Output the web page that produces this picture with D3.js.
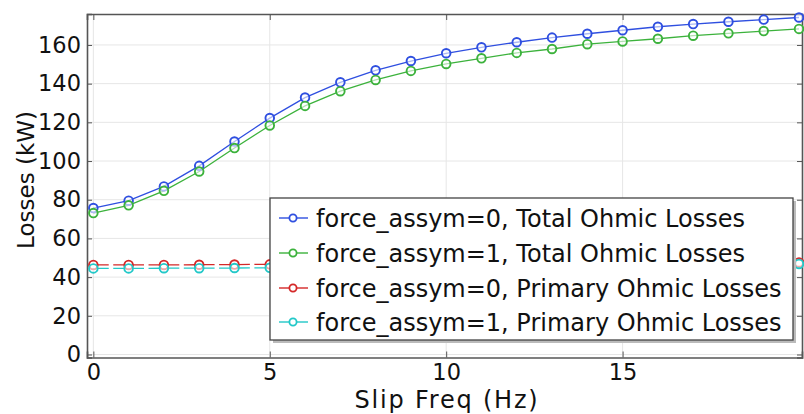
<!DOCTYPE html>
<html>
<head>
<meta charset="utf-8">
<script src="https://cdn.jsdelivr.net/npm/d3@7/dist/d3.min.js"></script>
<style>
  html, body { margin: 0; padding: 0; background: #fff; }
  svg { display: block; }
  text { font-family: "DejaVu Sans", sans-serif; fill: #111; }
</style>
</head>
<body>
<svg id="chart" width="804" height="414"></svg>
<script>
// ---- data ----
const slipFreq = [0,1,2,3,4,5,6,7,8,9,10,11,12,13,14,15,16,17,18,19,20];
const totalAssym0 = [75.7,79.5,86.9,97.5,110.1,122.2,132.8,140.7,146.9,151.7,155.7,158.8,161.4,163.8,165.8,167.6,169.4,170.8,172.0,173.1,174.2];
const totalAssym1 = [73.1,77.1,84.6,94.6,106.7,118.4,128.5,136.1,141.9,146.6,150.2,153.1,155.9,157.9,160.4,161.8,163.2,164.8,166.0,167.2,168.3];
const primaryAssym0 = [46.3,46.3,46.3,46.4,46.5,46.6,46.7,46.8,46.8,46.9,47.0,47.0,47.1,47.2,47.2,47.3,47.3,47.4,47.5,47.5,47.6];
const primaryAssym1 = [44.5,44.5,44.6,44.6,44.7,44.8,44.9,45.0,45.1,45.2,45.4,45.5,45.6,45.8,45.9,46.0,46.2,46.3,46.5,46.6,46.8];
const seriesNames = [
  "force_assym=0, Total Ohmic Losses",
  "force_assym=1, Total Ohmic Losses",
  "force_assym=0, Primary Ohmic Losses",
  "force_assym=1, Primary Ohmic Losses"
];
const xTicks = [0,5,10,15];
const yTicks = [0,20,40,60,80,100,120,140,160];
const xLabel = "Slip Freq (Hz)";
const yLabel = "Losses (kW)";

const colors = ["#2f4fe0", "#3cb23c", "#d42828", "#22c8c8"];
const dashed = [false, false, true, true];
const allSeries = [totalAssym0, totalAssym1, primaryAssym0, primaryAssym1];

// ---- layout ----
const svg = d3.select("#chart");
const L = 87, R = 802, T = 14, B = 357.5;
const x = d3.scaleLinear().domain([-0.18, 20.085]).range([L, R]);
const y = d3.scaleLinear().domain([-1.55, 176]).range([B, T]);

// grid
const grid = svg.append("g");
grid.selectAll("line.gy").data(yTicks).join("line")
  .attr("x1", L).attr("x2", R)
  .attr("y1", d => y(d)).attr("y2", d => y(d))
  .attr("stroke", "#e6e6e6").attr("stroke-width", 1);
grid.selectAll("line.gx").data(xTicks).join("line")
  .attr("y1", T).attr("y2", B)
  .attr("x1", d => x(d)).attr("x2", d => x(d))
  .attr("stroke", "#e6e6e6").attr("stroke-width", 1);

// axes (ticks inward)
const axisColor = "#555";
const gLeft = svg.append("g").attr("transform", `translate(${L},0)`)
  .call(d3.axisLeft(y).tickValues(yTicks).tickSize(-5).tickPadding(6));
const gBottom = svg.append("g").attr("transform", `translate(0,${B})`)
  .call(d3.axisBottom(x).tickValues(xTicks).tickSize(-6).tickPadding(6.5));
const gTop = svg.append("g").attr("transform", `translate(0,${T})`)
  .call(d3.axisTop(x).tickValues(xTicks).tickSize(-6).tickFormat(""));
const gRight = svg.append("g").attr("transform", `translate(${R},0)`)
  .call(d3.axisRight(y).tickValues(yTicks).tickSize(-5).tickFormat(""));
[gLeft, gBottom, gTop, gRight].forEach(g => {
  g.attr("font-size", null).attr("font-family", null);
  g.select(".domain").attr("stroke", axisColor).attr("stroke-width", 1.6);
  g.selectAll(".tick line").attr("stroke", axisColor).attr("stroke-width", 1);
  g.selectAll(".tick text").style("font-size", "22.5px").style("font-family", "DejaVu Sans").attr("fill", "#111");
});

// axis titles
svg.append("text").attr("x", 447).attr("y", 407.8).attr("text-anchor", "middle")
  .style("font-size", "24px").style("letter-spacing", "1.8px").text(xLabel);
svg.append("text").attr("transform", `translate(34,180) rotate(-90)`)
  .attr("text-anchor", "middle").style("font-size", "23px").text(yLabel);

// series
const line = d3.line().x((d, i) => x(slipFreq[i])).y(d => y(d));
const step = x(1) - x(0);
const period = step / 2, gap = 4.5, dash = period - gap;
allSeries.forEach((s, k) => {
  const p = svg.append("path").datum(s)
    .attr("d", line).attr("fill", "none")
    .attr("stroke", colors[k]).attr("stroke-width", 1.3);
  if (dashed[k]) {
    p.attr("stroke-dasharray", `${dash},${gap}`).attr("stroke-dashoffset", dash + gap / 2);
  }
});
allSeries.forEach((s, k) => {
  svg.append("g").selectAll("circle").data(s).join("circle")
    .attr("cx", (d, i) => x(slipFreq[i])).attr("cy", d => y(d))
    .attr("r", 4.3).attr("fill", "#fff").attr("fill-opacity", 0.6)
    .attr("stroke", colors[k]).attr("stroke-width", 1.9);
});

// legend
const lg = svg.append("g");
const lx = 270, ly = 198, lw = 523, lh = 142;
lg.append("rect").attr("x", lx + 3).attr("y", ly + 3).attr("width", lw).attr("height", lh)
  .attr("fill", "#bbb");
lg.append("rect").attr("x", lx).attr("y", ly).attr("width", lw).attr("height", lh)
  .attr("fill", "#fff").attr("stroke", "#444").attr("stroke-width", 1.3);
const rowY = [218, 253, 288, 322];
seriesNames.forEach((name, k) => {
  const cy = rowY[k];
  lg.append("line").attr("x1", lx + 9).attr("x2", lx + 38)
    .attr("y1", cy).attr("y2", cy).attr("stroke", colors[k]).attr("stroke-width", 1.4);
  lg.append("circle").attr("cx", lx + 23).attr("cy", cy).attr("r", 3.6)
    .attr("fill", "#fff").attr("stroke", colors[k]).attr("stroke-width", 1.8);
  lg.append("text").attr("x", lx + 46).attr("y", cy).attr("dy", "0.36em")
    .style("font-size", "24px").text(name);
});
</script>
</body>
</html>
